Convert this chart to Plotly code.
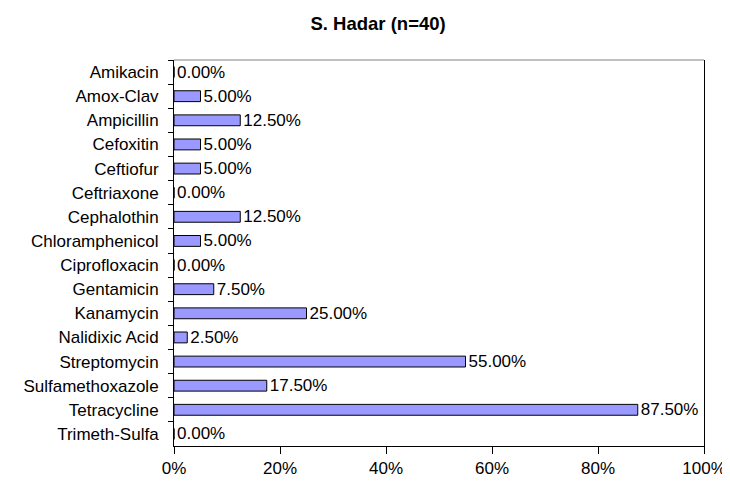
import plotly.graph_objects as go

drugs = ["Amikacin", "Amox-Clav", "Ampicillin", "Cefoxitin", "Ceftiofur", "Ceftriaxone",
         "Cephalothin", "Chloramphenicol", "Ciprofloxacin", "Gentamicin", "Kanamycin",
         "Nalidixic Acid", "Streptomycin", "Sulfamethoxazole", "Tetracycline", "Trimeth-Sulfa"]
pct = [0.0, 5.0, 12.5, 5.0, 5.0, 0.0, 12.5, 5.0, 0.0, 7.5, 25.0, 2.5, 55.0, 17.5, 87.5, 0.0]
xticks = [0, 20, 40, 60, 80, 100]

FONT = "Liberation Sans, Arial, sans-serif"
FS = 17

fig = go.Figure(go.Bar(
    x=pct, y=drugs, orientation="h",
    marker=dict(color="#9999FF", line=dict(color="#000000", width=1)),
    text=[f"{v:.2f}%" for v in pct], textposition="outside",
    constraintext="none",
    textfont=dict(family=FONT, size=FS, color="#000000"),
    cliponaxis=False,
))

fig.update_layout(
    width=730, height=482,
    margin=dict(l=166, r=22, t=52, b=39),
    paper_bgcolor="white", plot_bgcolor="white",
    showlegend=False, bargap=0.55,
    title=dict(text="<b>S. Hadar (n=40)</b>", x=0.507, xanchor="center", y=1 - 16/482, yanchor="middle",
               font=dict(family=FONT, size=18.5, color="#000000")),
    font=dict(family=FONT, size=FS, color="#000000"),
)
fig.update_xaxes(range=[0, 100], tickvals=xticks, ticktext=[f"{v}%" for v in xticks],
                 showgrid=False, zeroline=False, showline=True, linecolor="#000000", linewidth=1,
                 ticks="outside", ticklen=7, tickcolor="#000000",
                 tickfont=dict(family=FONT, size=FS, color="#000000"))
fig.update_yaxes(autorange="reversed", showgrid=False, zeroline=False, showline=True,
                 linecolor="#000000", linewidth=1, mirror=True,
                 ticks="outside", ticklen=5, tickcolor="#000000", tickson="boundaries",
                 ticklabelstandoff=11,
                 tickfont=dict(family=FONT, size=FS, color="#000000"))
fig.add_shape(type="line", xref="paper", yref="paper", x0=0, x1=1, y0=1, y1=1,
              line=dict(color="#808080", width=1))

fig.write_html("out.html")
